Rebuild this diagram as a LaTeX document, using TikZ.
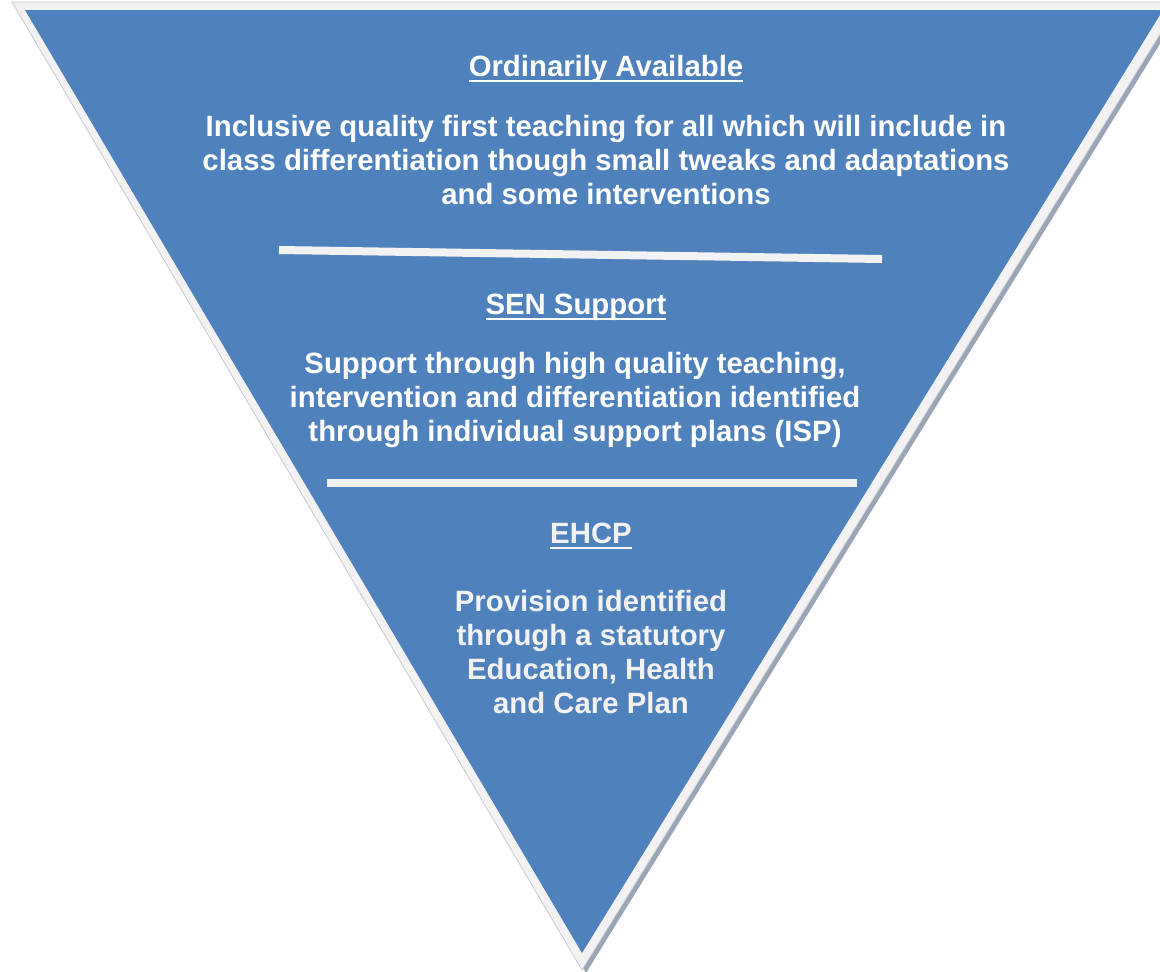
\documentclass[tikz,border=0pt]{standalone}
\usepackage{fontspec}
\setmainfont{Liberation Sans}
\newcommand{\headul}[1]{\setbox0\hbox{#1}\rlap{\rule[-3.6pt]{\wd0}{1.1pt}}\box0}
\definecolor{pyrblue}{HTML}{4F81BD}
\definecolor{pyredge}{HTML}{F2F2F2}
\definecolor{pyrshadow}{HTML}{9AA5B5}

\begin{document}
\begin{tikzpicture}[x=0.02cm, y=-0.02cm,
        heading/.style={text=white, font=\fontsize{16.7}{19.35}\selectfont\bfseries, anchor=base, inner sep=0pt},
        body/.style={text=white, font=\fontsize{16.7}{19.35}\selectfont\bfseries, align=center, inner sep=0pt},
        divider/.style={pyredge, line width=0.16cm}]
        \clip (0,0) rectangle (1160,971);
        \useasboundingbox (0,0) rectangle (1160,971);
        \fill[white] (0,0) rectangle (1160,971);

        % inverted pyramid: shadow, light rim, blue face
        \fill[pyrshadow] (16,5) -- (1184,5) -- (586,973) -- cycle;
        \fill[pyredge, draw=pyrshadow!60, line width=0.4pt] (12,2) -- (1180,2) -- (582,970) -- cycle;
        \fill[pyrblue] (25,10) -- (1163,10) -- (582,953) -- cycle;

        \draw[divider] (279,250) -- (882,259);
        \draw[divider] (327,483) -- (857,483);

        \node(oa) at (606,76) [heading]{\headul{Ordinarily Available}};
        \node(oatext) at (606,160) [body]{Inclusive quality first teaching for all which will include in\\class differentiation though small tweaks and adaptations\\and some interventions};

        \node(sen) at (576,314) [heading]{\headul{SEN Support}};
        \node(sentext) at (575,400) [body]{Support through high quality teaching,\\intervention and differentiation identified\\through individual support plans (ISP)};

        \node(ehcp) at (591,543) [heading, text=pyredge]{\headul{EHCP}};
        \node(ehcptext) at (591,652) [body, text=pyredge]{Provision identified\\through a statutory\\Education, Health\\and Care Plan};

    \end{tikzpicture}
\end{document}
